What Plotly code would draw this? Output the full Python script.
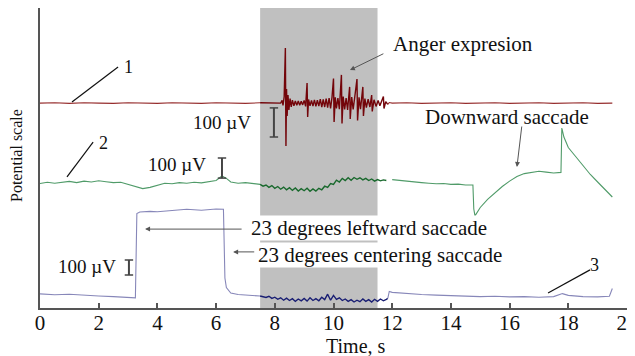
import plotly.graph_objects as go

# ---------------- data ----------------
time_ticks = [0, 2, 4, 6, 8, 10, 12, 14, 16, 18, 20]
shade_start, shade_end = 7.5, 11.5       # grey stimulus window (s)
dark_start, dark_end = 7.5, 11.85        # part of traces drawn darker

# trace 1 (red, facial EMG)
red_t = [0.0, 0.5, 1.0, 1.5, 2.0, 2.5, 3.0, 3.5, 4.0, 4.5, 5.0, 5.5, 6.0, 6.5, 7.0, 7.5, 8.0,
         8.20, 8.25, 8.28, 8.32, 8.36, 8.38, 8.40, 8.42, 8.45, 8.48, 8.52, 8.56, 8.60, 8.65, 8.70,
         8.75, 8.80, 8.85, 8.90, 8.95, 9.00, 9.05, 9.10, 9.12, 9.15, 9.20, 9.25, 9.30, 9.35, 9.40,
         9.45, 9.50, 9.55, 9.60, 9.65, 9.70, 9.75, 9.80, 9.85, 9.90, 9.95, 10.00, 10.02, 10.06,
         10.10, 10.15, 10.20, 10.27, 10.29, 10.33, 10.38, 10.43, 10.48, 10.55, 10.57, 10.62,
         10.67, 10.72, 10.80, 10.82, 10.87, 10.92, 11.00, 11.02, 11.07, 11.12, 11.18, 11.24,
         11.30, 11.32, 11.38, 11.45, 11.52, 11.58, 11.65, 11.70, 11.72, 11.78, 11.85, 11.90,
         12.0, 12.5, 13.0, 13.5, 14.0, 14.5, 15.0, 15.5, 16.0, 16.5, 17.0, 17.5, 18.0, 18.5, 19.0, 19.5]
red_v = [68.3, 68.4, 68.2, 68.4, 68.3, 68.2, 68.4, 68.3, 68.2, 68.4, 68.3, 68.2, 68.4, 68.3, 68.2, 68.4, 68.3,
         68.3, 69.2, 67.5, 70.5, 86.7, 54.0, 73.0, 64.0, 71.0, 66.0, 69.8, 67.0, 69.3, 67.4, 69.0,
         67.6, 69.0, 67.6, 68.9, 67.7, 69.2, 67.2, 75.0, 63.7, 69.5, 67.4, 69.2, 67.3, 69.4, 67.2,
         69.3, 67.3, 69.6, 67.0, 69.5, 67.0, 69.8, 66.8, 70.0, 66.5, 70.3, 76.5, 62.0, 70.2,
         66.5, 70.0, 66.3, 77.7, 61.5, 70.5, 66.2, 70.0, 66.0, 73.7, 63.0, 70.3,
         66.2, 70.0, 76.3, 62.5, 70.2, 66.3, 73.7, 64.0, 69.8, 66.8, 69.6, 67.0,
         71.0, 65.5, 69.4, 67.2, 69.2, 67.4, 68.9, 70.5, 66.5, 68.8, 67.9, 68.5,
         68.3, 68.4, 68.2, 68.3, 68.4, 68.2, 68.3, 68.4, 68.2, 68.3, 68.4, 68.2, 68.3, 68.4, 68.2, 68.3]

# trace 2 (green, vertical EOG)
green_t = [0.0, 0.25, 0.5, 0.75, 1.0, 1.25, 1.5, 1.75, 2.0, 2.25, 2.5, 2.75, 3.0, 3.25, 3.5, 3.75,
           4.0, 4.25, 4.5, 4.75, 5.0, 5.25, 5.5, 5.75, 6.0, 6.2, 6.35, 6.5, 6.75, 7.0, 7.25,
           7.5, 7.6, 7.7, 7.8, 7.9, 8.0, 8.1, 8.2, 8.3, 8.4, 8.5, 8.6, 8.7, 8.8, 8.9, 9.0, 9.1, 9.2,
           9.3, 9.4, 9.5, 9.6, 9.7, 9.8, 9.9, 10.0, 10.1, 10.2, 10.3, 10.4, 10.5, 10.6, 10.7, 10.8,
           10.9, 11.0, 11.1, 11.2, 11.3, 11.4, 11.5, 11.6, 11.7, 11.8,
           12.0, 12.25, 12.5, 12.75, 13.0, 13.25, 13.5, 13.75, 14.0, 14.25, 14.5, 14.75,
           14.78, 14.82, 15.0, 15.25, 15.5, 15.75, 16.0, 16.25, 16.5, 16.75, 17.0, 17.25, 17.5,
           17.75, 17.78, 17.85, 18.0, 18.25, 18.5, 18.75, 19.0, 19.25, 19.5]
green_v = [41.5, 41.9, 41.6, 42.0, 42.2, 41.8, 42.3, 42.0, 42.4, 42.1, 41.8, 41.9, 41.2, 40.3, 39.8, 40.2,
           41.0, 41.6, 41.4, 41.8, 41.6, 41.9, 41.7, 42.2, 42.5, 44.0, 43.2, 42.0, 41.6, 41.8, 41.5,
           41.2, 40.6, 41.0, 40.2, 40.8, 39.9, 40.5, 39.6, 40.3, 39.4, 40.1, 39.2, 40.0, 39.0, 39.8, 39.1, 39.9, 38.9,
           39.7, 39.0, 39.9, 39.4, 40.6, 40.2, 41.5, 41.2, 42.6, 42.0, 43.2, 42.5, 43.4, 42.6, 43.5, 42.9,
           43.4, 42.7, 43.2, 42.5, 43.0, 42.3, 42.8, 42.4, 42.7, 42.5,
           42.8, 42.5, 42.3, 42.0, 41.8, 41.6, 41.4, 41.5, 41.2, 41.3, 41.0, 41.0,
           33.0, 30.7, 33.5, 36.2, 38.5, 40.5, 42.3, 43.8, 44.8, 45.2, 45.6, 45.3, 45.0,
           45.2, 60.0, 57.0, 53.5, 50.5, 47.5, 44.5, 42.0, 39.5, 37.0]

# trace 3 (blue, horizontal EOG)
blue_t = [0.0, 0.5, 1.0, 1.5, 2.0, 2.5, 3.0, 3.25, 3.3, 3.4, 3.75, 4.0, 4.5, 5.0, 5.5, 6.0, 6.25,
          6.3, 6.35, 6.5, 6.75, 7.0, 7.5,
          7.6, 7.7, 7.8, 7.9, 8.0, 8.1, 8.2, 8.3, 8.4, 8.5, 8.6, 8.7, 8.8, 8.9, 9.0, 9.1, 9.2, 9.3,
          9.4, 9.5, 9.6, 9.7, 9.8, 9.9, 10.0, 10.1, 10.2, 10.3, 10.4, 10.5, 10.6, 10.7, 10.8, 10.9,
          11.0, 11.1, 11.2, 11.3, 11.4, 11.5, 11.6, 11.7, 11.8, 11.85,
          11.9, 12.0, 12.5, 13.0, 13.5, 14.0, 14.5, 15.0, 15.5, 16.0, 16.5, 17.0, 17.5, 17.8,
          18.0, 18.5, 19.0, 19.4, 19.5]
blue_v = [4.7, 4.4, 4.6, 4.2, 4.0, 3.8, 3.6, 3.4, 31.5, 32.0, 32.2, 32.1, 32.5, 32.9, 32.6, 33.0, 32.9,
          10.0, 6.8, 5.0, 4.5, 4.3, 4.0,
          3.8, 3.5, 3.9, 3.2, 3.6, 2.9, 3.4, 2.6, 3.3, 2.5, 3.1, 2.2, 3.0, 2.4, 3.2, 2.3, 3.4, 2.5,
          3.1, 2.4, 3.6, 2.8, 4.6, 2.6, 4.2, 2.9, 3.4, 2.5, 3.0, 2.2, 2.8, 2.0, 2.6, 2.1,
          3.0, 2.2, 2.8, 2.0, 2.9, 2.2, 3.0, 2.4, 2.9, 3.2,
          5.5, 5.2, 4.8, 4.5, 4.3, 4.1, 4.0, 3.8, 3.9, 3.7, 3.8, 3.6, 3.8, 4.8,
          4.2, 3.8, 3.7, 3.9, 6.5]

# 100 µV calibration bars: (x, y_bottom, y_top)
cal_bars = [(7.97, 57.0, 66.7), (6.2, 43.3, 50.0), (3.03, 11.0, 16.0)]

FONT = "Liberation Serif"
AX = "#555555"

# ---------------- figure ----------------
fig = go.Figure()

def split(t, v, a, b):
    segs = [[], [], []]
    for ti, vi in zip(t, v):
        if ti <= a:
            segs[0].append((ti, vi))
        if a <= ti <= b:
            segs[1].append((ti, vi))
        if ti >= b:
            segs[2].append((ti, vi))
    return segs

def add_series(t, v, light, dark, width_light=1.1, width_dark=1.4):
    s0, s1, s2 = split(t, v, dark_start, dark_end)
    for seg, col, w in ((s0, light, width_light), (s1, dark, width_dark), (s2, light, width_light)):
        if seg:
            fig.add_trace(go.Scatter(x=[p[0] for p in seg], y=[p[1] for p in seg], mode="lines",
                                     line=dict(color=col, width=w), hoverinfo="skip", showlegend=False))

add_series(red_t, red_v, "rgb(150,45,45)", "rgb(115,5,10)")
add_series(green_t, green_v, "rgb(80,155,105)", "rgb(25,105,45)")
add_series(blue_t, blue_v, "rgb(135,135,185)", "rgb(25,30,115)")

# calibration bars (I-beam)
for (bx, y0, y1) in cal_bars:
    fig.add_trace(go.Scatter(x=[bx, bx], y=[y0, y1], mode="lines+markers",
                             line=dict(color="#444", width=2),
                             marker=dict(symbol="line-ew", size=6, line=dict(color="#444", width=1.5)),
                             hoverinfo="skip", showlegend=False))

shapes = [
    dict(type="rect", xref="x", yref="paper", x0=shade_start, x1=shade_end, y0=0, y1=1,
         fillcolor="rgb(192,192,192)", line=dict(width=0), layer="below"),
    # leader lines for trace numbers
    dict(type="line", xref="x", yref="y", x0=1.09, y0=68.7, x1=2.66, y1=80.3, line=dict(color="#111", width=1.2)),
    dict(type="line", xref="x", yref="y", x0=0.92, y0=43.7, x1=1.81, y1=55.3, line=dict(color="#111", width=1.2)),
    dict(type="line", xref="x", yref="y", x0=17.31, y0=5.0, x1=18.74, y1=12.7, line=dict(color="#111", width=1.2)),
]

tf = dict(family=FONT, size=21, color="#111")
uv = dict(family=FONT, size=19, color="#111")
nf = dict(family=FONT, size=18, color="#111")
annotations = [
    dict(x=3.03, y=80.3, text="1", showarrow=False, font=nf, xanchor="center"),
    dict(x=2.15, y=55.0, text="2", showarrow=False, font=nf, xanchor="center"),
    dict(x=18.9, y=14.3, text="3", showarrow=False, font=nf, xanchor="center"),
    dict(x=11.96, y=88.0, text="Anger expresion", showarrow=False, font=tf, xanchor="left"),
    dict(x=10.56, y=79.3, ax=11.75, ay=85.0, axref="x", ayref="y", text="", showarrow=True,
         arrowhead=2, arrowsize=1, arrowwidth=1, arrowcolor="#555"),
    dict(x=15.91, y=63.7, text="Downward saccade", showarrow=False, font=tf),
    dict(x=16.25, y=47.0, ax=16.42, ay=61.0, axref="x", ayref="y", text="", showarrow=True,
         arrowhead=2, arrowsize=1, arrowwidth=1, arrowcolor="#555"),
    dict(x=7.16, y=26.7, text="23 degrees leftward saccade", showarrow=False, font=tf, xanchor="left",
         bgcolor="white", borderpad=0),
    dict(x=3.58, y=26.3, ax=6.92, ay=26.3, axref="x", ayref="y", text="", showarrow=True,
         arrowhead=2, arrowsize=1, arrowwidth=1, arrowcolor="#555"),
    dict(x=7.39, y=17.7, text="23 degrees centering saccade", showarrow=False, font=tf, xanchor="left",
         bgcolor="white", borderpad=0),
    dict(x=6.58, y=18.7, ax=7.35, ay=18.7, axref="x", ayref="y", text="", showarrow=True,
         arrowhead=2, arrowsize=1, arrowwidth=1, arrowcolor="#555"),
    dict(x=7.33, y=62.0, text="100 µV", showarrow=False, font=uv,
         xanchor="right", bgcolor="white", borderpad=3),
    dict(x=5.72, y=47.7, text="100 µV", showarrow=False, font=uv, xanchor="right"),
    dict(x=2.66, y=13.7, text="100 µV", showarrow=False, font=uv, xanchor="right"),
    # axis titles
    dict(xref="paper", yref="paper", x=0.538, y=-0.127, text="Time, s", showarrow=False,
         xanchor="center", yanchor="middle", font=dict(family=FONT, size=20, color="#111")),
    dict(xref="paper", yref="paper", x=-0.039, y=0.507, text="Potential scale", showarrow=False,
         xanchor="center", yanchor="middle", textangle=-90, font=dict(family=FONT, size=16, color="#111")),
]

fig.update_layout(
    width=627, height=348,
    margin=dict(l=32, r=8, t=0, b=48, autoexpand=False),
    paper_bgcolor="white", plot_bgcolor="white",
    shapes=shapes, annotations=annotations, showlegend=False,
    xaxis=dict(range=[0, 20], tickvals=time_ticks, ticktext=[str(v) for v in time_ticks],
               ticks="inside", ticklen=5, tickwidth=1.5, tickcolor=AX, automargin=False,
               ticklabelstandoff=-5, ticklabeloverflow="allow",
               showline=True, linecolor=AX, linewidth=1.5, showgrid=False, zeroline=False,
               tickfont=dict(family=FONT, size=21, color="#111")),
    yaxis=dict(range=[0, 100], showticklabels=False, ticks="", showline=True, linecolor=AX, linewidth=1.5,
               showgrid=False, zeroline=False, automargin=False),
)

fig.write_html("out.html")
